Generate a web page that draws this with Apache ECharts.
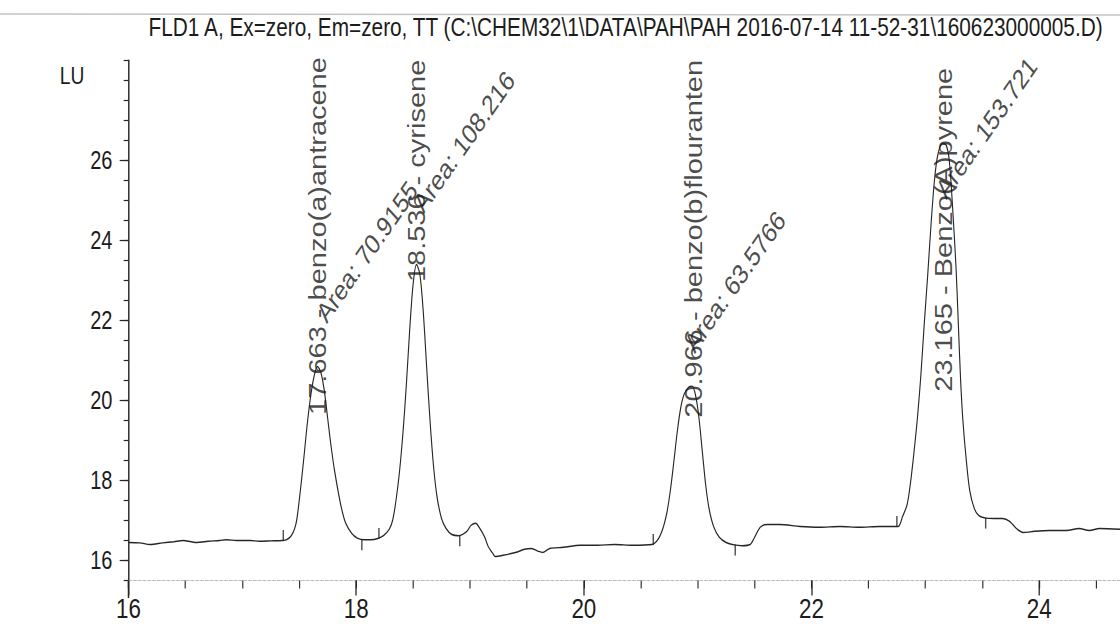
<!DOCTYPE html>
<html><head><meta charset="utf-8">
<script src="https://cdn.jsdelivr.net/npm/echarts@6/dist/echarts.min.js"></script>
<style>
html,body{margin:0;padding:0;background:#fff;overflow:hidden;width:1120px;height:631px}
#wrap{width:1120px;height:631px;overflow:hidden;position:relative}
#c{width:1400px;height:631px;transform:scaleX(0.8);transform-origin:0 0}
</style></head><body><div id="wrap"><div id="c"></div></div>
<script>
// ---- data ----
const time = [
 16.00,16.10,16.19,16.30,16.40,16.48,16.55,16.60,16.70,16.80,16.86,16.95,17.07,17.15,17.25,17.35,
 17.39,17.43,17.46,17.48,17.51,17.54,17.57,17.60,17.63,17.66,17.69,17.72,17.75,17.78,17.81,17.85,17.88,17.91,17.96,18.01,18.07,18.13,18.19,
 18.24,18.29,18.32,18.35,18.38,18.41,18.44,18.47,18.50,18.53,18.56,18.59,18.62,18.65,18.68,18.71,18.75,18.79,18.84,18.90,
 18.97,19.01,19.05,19.08,19.13,19.16,19.20,19.22,19.29,19.40,19.48,19.54,19.60,19.64,19.70,19.82,19.97,20.12,20.27,20.43,20.60,
 20.64,20.67,20.70,20.73,20.76,20.79,20.82,20.85,20.88,20.92,20.95,20.98,21.01,21.04,21.07,21.10,21.14,21.19,21.25,21.32,21.39,21.46,
 21.50,21.55,21.61,21.72,21.90,22.07,22.25,22.42,22.60,22.76,
 22.80,22.84,22.87,22.90,22.93,22.96,22.99,23.02,23.05,23.08,23.11,23.15,23.18,23.21,23.24,23.27,23.29,23.31,23.33,23.36,23.39,23.43,
 23.47,23.53,23.60,23.68,23.74,23.80,23.86,23.96,24.09,24.24,24.35,24.44,24.53,24.71
];
const signal = [
 16.45,16.44,16.40,16.44,16.47,16.50,16.47,16.45,16.48,16.50,16.52,16.50,16.50,16.48,16.49,16.50,
 16.52,16.62,16.80,17.05,17.75,18.55,19.40,20.10,20.60,20.85,20.70,20.25,19.55,18.85,18.25,17.60,17.20,16.92,16.68,16.56,16.52,16.52,16.55,
 16.62,16.78,17.00,17.50,18.20,19.15,20.35,21.75,22.90,23.40,23.15,22.20,20.80,19.45,18.35,17.60,17.05,16.80,16.65,16.62,
 16.72,16.88,16.93,16.83,16.58,16.35,16.18,16.10,16.13,16.20,16.28,16.30,16.23,16.20,16.30,16.33,16.38,16.38,16.40,16.38,16.40,
 16.48,16.62,16.85,17.20,17.75,18.45,19.20,19.80,20.15,20.33,20.36,20.15,19.60,18.75,17.90,17.30,16.85,16.58,16.45,16.39,16.37,16.40,
 16.58,16.83,16.90,16.90,16.85,16.83,16.85,16.83,16.85,16.85,
 17.10,17.40,17.95,18.70,19.55,20.60,21.90,23.10,24.40,25.50,26.15,26.42,26.40,26.00,24.80,23.30,21.90,20.50,19.50,18.50,17.75,17.30,
 17.12,17.06,17.05,17.05,16.98,16.80,16.70,16.73,16.75,16.75,16.80,16.75,16.80,16.78
];
const peakTime = [17.663, 18.536, 20.966, 23.165];
const peakName = ['benzo(a)antracene', 'cyrisene', 'benzo(b)flouranten', 'Benzo(A)pyrene'];
const peakArea = ['70.9155', '108.216', '63.5766', '153.721'];
const startMarkTime = [17.36, 18.20, 20.61, 22.75];
const startMarkSignal = [16.50, 16.55, 16.40, 16.85];
const endMarkTime = [18.05, 18.91, 21.33, 23.53];
const endMarkSignal = [16.52, 16.62, 16.39, 17.06];
const xMajorTicks = [16, 18, 20, 22, 24];
const xMinorTicks = [16, 16.5, 17, 17.5, 18, 18.5, 19, 19.5, 20, 20.5, 21, 21.5, 22, 22.5, 23, 23.5, 24, 24.5];
const yLabelTicks = [16, 18, 20, 22, 24, 26];
const titleText = 'FLD1 A, Ex=zero, Em=zero, TT (C:\\CHEM32\\1\\DATA\\PAH\\PAH 2016-07-14 11-52-31\\160623000005.D)';

// ---- label layout (positions, not data) ----
const nameLabelY = [19.64, 22.96, 19.57, 20.22];
const areaLabelY = [21.84, 24.59, 21.09, 24.94];
const areaLabelShift = [0.10, 0.08, 0.03, 0.04];

const FONT = '"Liberation Sans", Arial, sans-serif';
const INK = '#262626';
const X_MIN = 16, X_MAX = 24.71, Y_MIN = 15.5, Y_MAX = 28.5;

const chart = echarts.init(document.getElementById('c'), null, {renderer: 'svg', width: 1400, height: 631});
chart.setOption({
  animation: false,
  backgroundColor: '#fff',
  grid: {left: 160.6, right: 0, top: 60.5, bottom: 50.5, containLabel: false},
  xAxis: [
    {type: 'value', min: X_MIN, max: X_MAX, interval: 0.5, position: 'bottom',
     axisLine: {show: true, lineStyle: {color: '#b5b5b5', type: 'dashed', width: 1}},
     axisTick: {show: true, customValues: xMinorTicks, length: 8, lineStyle: {color: INK, width: 1.4}},
     axisLabel: {show: false}, splitLine: {show: false}},
    {type: 'value', min: X_MIN, max: X_MAX, interval: 2, position: 'bottom',
     axisLine: {show: false},
     axisTick: {show: true, customValues: xMajorTicks, length: 15, lineStyle: {color: INK, width: 1.6}},
     axisLabel: {show: true, customValues: xMajorTicks, margin: 14, fontSize: 28, fontFamily: FONT, color: '#1c1c1c'},
     splitLine: {show: false}}
  ],
  yAxis: [
    {type: 'value', min: Y_MIN, max: Y_MAX, interval: 0.5, position: 'left',
     axisLine: {show: true, lineStyle: {color: INK, width: 1.8}},
     axisTick: {show: true, length: 6, lineStyle: {color: INK, width: 1.2}},
     axisLabel: {show: false}, splitLine: {show: false}},
    {type: 'value', min: Y_MIN, max: Y_MAX, interval: 0.5, position: 'left',
     axisLine: {show: false},
     axisTick: {show: true, customValues: yLabelTicks, length: 11, lineStyle: {color: INK, width: 1.2}},
     axisLabel: {show: true, customValues: yLabelTicks, margin: 20, fontSize: 25, fontFamily: FONT, color: '#1c1c1c'},
     splitLine: {show: false}}
  ],
  graphic: [
    {type: 'line', shape: {x1: 0, y1: 14, x2: 1400, y2: 15}, style: {stroke: '#c4c4c4', lineWidth: 1.5}, silent: true},
    {type: 'text', x: 782, y: 27, style: {text: titleText, font: '26px ' + FONT, fill: '#1c1c1c', textAlign: 'center', textVerticalAlign: 'middle'}},
    {type: 'text', x: 90, y: 76, style: {text: 'LU', font: '24px ' + FONT, fill: '#1c1c1c', textAlign: 'center', textVerticalAlign: 'middle'}},
    {type: 'line', shape: {x1: 160.6, y1: 580.5, x2: 160.6, y2: 598}, style: {stroke: INK, lineWidth: 1.8}, silent: true}
  ],
  series: [
    {type: 'line', xAxisIndex: 0, yAxisIndex: 0, data: time.map((t, i) => [t, signal[i]]),
     showSymbol: false, smooth: 0.3, lineStyle: {color: INK, width: 1.4}, z: 3},
    {type: 'scatter', xAxisIndex: 0, yAxisIndex: 0, data: startMarkTime.map((t, i) => [t, startMarkSignal[i]]),
     symbol: 'rect', symbolSize: [1.8, 11], symbolOffset: [0, -5], itemStyle: {color: INK}, z: 3},
    {type: 'scatter', xAxisIndex: 0, yAxisIndex: 0, data: endMarkTime.map((t, i) => [t, endMarkSignal[i]]),
     symbol: 'rect', symbolSize: [1.8, 11], symbolOffset: [0, 5], itemStyle: {color: INK}, z: 3},
    {type: 'scatter', xAxisIndex: 0, yAxisIndex: 0, symbolSize: 1, itemStyle: {color: 'transparent'}, z: 4,
     data: peakTime.map((t, i) => ({value: [t, nameLabelY[i]], name: t.toFixed(3) + ' - ' + peakName[i]})),
     label: {show: true, position: 'inside', formatter: p => p.name, rotate: 90, align: 'left', verticalAlign: 'middle',
             fontSize: 29, fontFamily: FONT, color: '#1c1c1c'}},
    {type: 'scatter', xAxisIndex: 0, yAxisIndex: 0, symbolSize: 1, itemStyle: {color: 'transparent'}, z: 4,
     data: peakTime.map((t, i) => ({value: [t + areaLabelShift[i], areaLabelY[i]], name: 'Area: ' + peakArea[i]})),
     label: {show: true, position: 'inside', formatter: p => p.name, rotate: 49, align: 'left', verticalAlign: 'bottom',
             fontSize: 28, fontFamily: FONT, color: '#1c1c1c'}}
  ]
});
</script></body></html>
